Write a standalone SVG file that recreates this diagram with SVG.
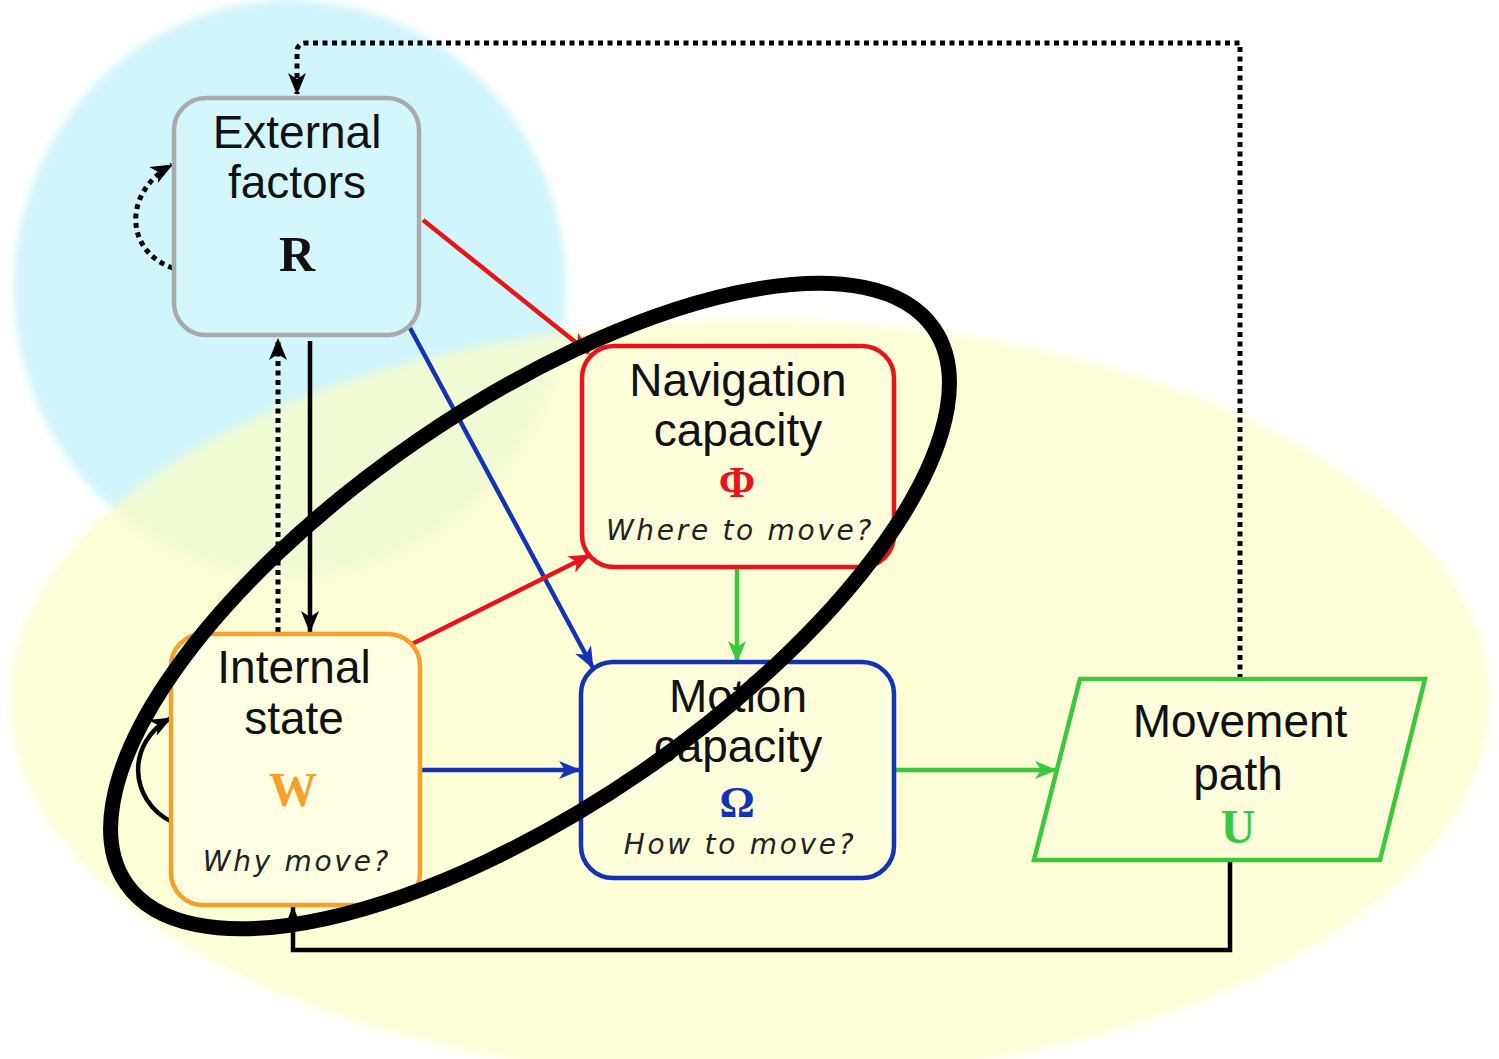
<svg xmlns="http://www.w3.org/2000/svg" width="1499" height="1059" viewBox="0 0 1499 1059">
<style>
.lbl{font-family:"Liberation Sans",Arial,sans-serif;font-size:46px;fill:#111;text-anchor:middle}
.q{font-family:"DejaVu Sans",Verdana,sans-serif;font-style:italic;font-size:28px;letter-spacing:2.7px;fill:#222;text-anchor:middle}
.sym{font-family:"Liberation Serif","Times New Roman",serif;font-weight:bold;text-anchor:middle}
.box{stroke-width:4.5}
.c{fill:none;stroke-width:4.5}
.dot{fill:none;stroke:#000;stroke-width:5;stroke-dasharray:5 4.5}
</style>
<defs>
<filter id="soft" x="-10%" y="-10%" width="120%" height="120%"><feGaussianBlur stdDeviation="4"/></filter>
<marker id="aK" markerUnits="userSpaceOnUse" markerWidth="24" markerHeight="20" refX="21" refY="10" orient="auto"><path d="M0,1 L22,10 L0,19 L6,10 Z" fill="#000"/></marker>
<marker id="aR" markerUnits="userSpaceOnUse" markerWidth="24" markerHeight="20" refX="21" refY="10" orient="auto"><path d="M0,1 L22,10 L0,19 L6,10 Z" fill="#e8141c"/></marker>
<marker id="aB" markerUnits="userSpaceOnUse" markerWidth="24" markerHeight="20" refX="21" refY="10" orient="auto"><path d="M0,1 L22,10 L0,19 L6,10 Z" fill="#1432b4"/></marker>
<marker id="aG" markerUnits="userSpaceOnUse" markerWidth="24" markerHeight="20" refX="21" refY="10" orient="auto"><path d="M0,1 L22,10 L0,19 L6,10 Z" fill="#3cc83c"/></marker>
</defs>
<rect width="1499" height="1059" fill="#fff"/>
<g id="background" filter="url(#soft)">
<ellipse cx="290" cy="288" rx="276" ry="288" fill="#d0f5fa"/>
<ellipse cx="750" cy="700" rx="740" ry="380" fill="#fcfcc6" fill-opacity="0.72"/>
</g>
<g id="connectors">
<path class="dot" d="M1240,679 V43 H306 Q297,43 297,52 V94" marker-end="url(#aK)"/>
<path class="dot" d="M173,268 C125,252 122,192 172,165" marker-end="url(#aK)"/>
<path class="c" stroke="#000" d="M172,822 C128,800 126,742 171,718" marker-end="url(#aK)"/>
<path class="c" stroke="#e8141c" d="M423,220 L589,353" marker-end="url(#aR)"/>
<path class="c" stroke="#1432b4" d="M410,328 L593,668" marker-end="url(#aB)"/>
<path class="c" stroke="#000" d="M310,341 V632" marker-end="url(#aK)"/>
<path class="dot" d="M278,632 V339" marker-end="url(#aK)"/>
<path class="c" stroke="#e8141c" d="M410,645 L590,555" marker-end="url(#aR)"/>
<path class="c" stroke="#1432b4" d="M422,770 H580" marker-end="url(#aB)"/>
<path class="c" stroke="#3cc83c" d="M737,569 V662" marker-end="url(#aG)"/>
<path class="c" stroke="#3cc83c" d="M896,770 H1056" marker-end="url(#aG)"/>
<path class="c" stroke="#000" stroke-width="5" d="M1230,861 V950 H293 V907" marker-end="url(#aK)"/>
</g>
<g id="external">
<rect class="box" x="174" y="98" width="245" height="237" rx="32" fill="#d4f7fc" stroke="#a9abab"/>
<text class="lbl" x="297" y="148">External</text>
<text class="lbl" x="297" y="198">factors</text>
<text class="sym" x="297" y="271" font-size="50" fill="#111">R</text>
</g>
<g id="internal">
<rect class="box" x="171" y="634" width="249" height="271" rx="32" fill="#fefee2" stroke="#f5a02a"/>
<text class="lbl" x="294" y="683">Internal</text>
<text class="lbl" x="294" y="734">state</text>
<text class="sym" x="293" y="806" font-size="48" fill="#f5a02a">W</text>
<text class="q" x="297" y="871">Why move?</text>
</g>
<g id="navigation">
<rect class="box" x="582" y="346" width="312" height="221" rx="32" fill="#fdfddc" stroke="#e8141c"/>
<text class="lbl" x="738" y="396">Navigation</text>
<text class="lbl" x="738" y="446">capacity</text>
<text class="sym" x="737" y="497" font-size="44" fill="#e8141c">Φ</text>
<text class="q" x="740" y="540">Where to move?</text>
</g>
<g id="motion">
<rect class="box" x="581" y="662" width="313" height="216" rx="32" fill="#fdfddc" stroke="#1432b4"/>
<text class="lbl" x="738" y="712">Motion</text>
<text class="lbl" x="738" y="762">capacity</text>
<text class="sym" x="737" y="817" font-size="44" fill="#1432b4">Ω</text>
<text class="q" x="740" y="854">How to move?</text>
</g>
<g id="movement">
<polygon class="box" points="1080,679 1425,679 1380,860 1034,860" fill="#fdfddc" stroke="#3cc83c"/>
<text class="lbl" x="1240" y="737">Movement</text>
<text class="lbl" x="1238" y="790">path</text>
<text class="sym" x="1238" y="843" font-size="48" fill="#3cc83c">U</text>
</g>
<g id="highlight">
<ellipse cx="530" cy="606" rx="490" ry="200" transform="rotate(-34.5 530 606)" fill="none" stroke="#000" stroke-width="15"/>
</g>
</svg>
